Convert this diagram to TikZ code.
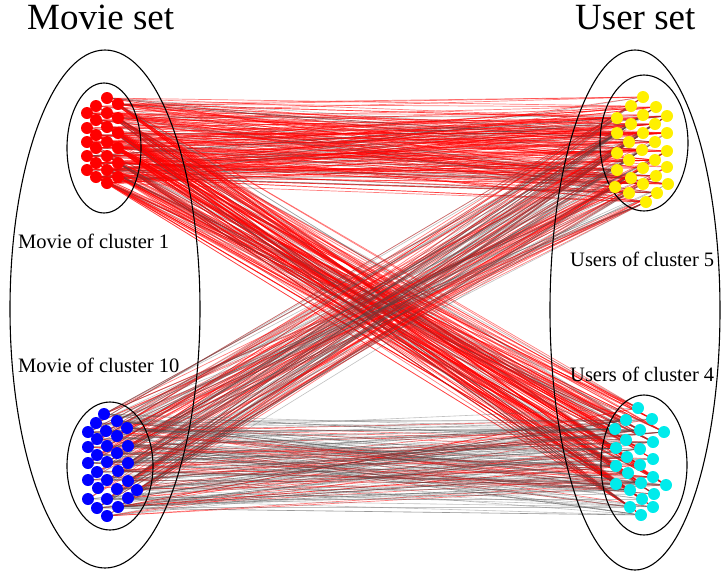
\documentclass[tikz,border=0pt]{standalone}
\usepackage{fontspec}
\setmainfont{LiberationSerif-Regular.ttf}
\usetikzlibrary{backgrounds}

\definecolor{aqua}{RGB}{0,235,235}
\definecolor{amar}{RGB}{255,240,0}

\tikzset{
  punto/.style={circle,inner sep=0pt,minimum size=12pt},
  rojo/.style={punto,fill=red},
  amarillo/.style={punto,fill=amar},
  azul/.style={punto,fill=blue},
  cian/.style={punto,fill=aqua},
  lrojo/.style={red,line width=0.7pt,opacity=0.5},
  lgris/.style={black!70,line width=0.6pt,opacity=0.35},
  conj/.style={black,line width=1.1pt},
  titulo/.style={font=\fontsize{37}{40}\selectfont,anchor=base west,inner sep=0pt},
  etiq/.style={font=\fontsize{20.5}{23}\selectfont,anchor=base west,inner sep=0pt}
}

\begin{document}
\begin{tikzpicture}[x=1pt,y=-1pt]
    \useasboundingbox (0,0) rectangle (721,574);

    % Titulos
    \node[titulo] (tmovie) at (27,29) {Movie set};
    \node[titulo] (tuser) at (575,29) {User set};

    % Conjuntos
    \draw[conj] (105,309) ellipse [x radius=95pt, y radius=259pt];
    \draw[conj] (635,310) ellipse [x radius=85pt, y radius=260pt];
    \draw[conj] (104,148) ellipse [x radius=37pt, y radius=65pt];
    \draw[conj] (644,143) ellipse [x radius=44pt, y radius=68pt];
    \draw[conj] (110,466) ellipse [x radius=43pt, y radius=64pt];
    \draw[conj] (644,465) ellipse [x radius=43pt, y radius=70pt];

    % Etiquetas
    \node[etiq] (lm1) at (18,248) {Movie of cluster 1};
    \node[etiq] (lm10) at (18,372) {Movie of cluster 10};
    \node[etiq] (lu5) at (570,266) {Users of cluster 5};
    \node[etiq] (lu4) at (570,381) {Users of cluster 4};

    % Cluster 1 (peliculas)
    \foreach \x/\y [count=\i] in {87/113,87/128,87/142,87/156,87/170,
        96/106,96/120,96/135,96/148,96/163,96/177,
        107/98,107/113,107/127,107/142,107/156,107/170,107/183,
        118/104,118/118,118/133,118/148,118/163,118/177}
      \node[rojo] (r\i) at (\x,\y) {};

    % Cluster 10 (peliculas)
    \foreach \x/\y [count=\i] in {104/414,96/423,117/421,88/432,106/431,127/428,
        97/439,117/436,88/447,107/446,128/446,97/455,117/453,88/463,107/462,
        128/463,97/472,118/471,88/480,107/480,128/481,98/488,117/489,137/490,
        88/499,107/499,128/498,97/508,118/507,107/516}
      \node[azul] (b\i) at (\x,\y) {};

    % Cluster 5 (usuarios)
    \foreach \x/\y [count=\i] in {643/97,631/106,656/107,617/118,643/115,667/116,
        631/124,655/124,617/133,643/133,667/133,629/142,655/142,617/153,642/150,
        667/151,629/160,655/160,617/170,643/168,667/167,631/178,656/176,615/187,
        643/184,668/184,629/193,657/193,646/202}
      \node[amarillo] (y\i) at (\x,\y) {};

    % Cluster 4 (usuarios)
    \foreach \x/\y [count=\i] in {638/408,626/420,652/419,615/429,640/430,664/432,
        626/440,653/442,616/448,640/449,627/457,653/459,616/466,640/465,628/473,
        653/477,616/484,641/483,666/485,630/490,654/494,642/499,630/507,653/507,
        641/515}
      \node[cian] (c\i) at (\x,\y) {};

    % Aristas
    \pgfmathsetseed{42}
    \begin{scope}[on background layer]
      \foreach \k in {1,...,200}{
        \pgfmathrandominteger{\a}{1}{24}\pgfmathrandominteger{\b}{1}{29}
        \draw[lrojo] (r\a.center) -- (y\b.center);}
      \foreach \k in {1,...,30}{
        \pgfmathrandominteger{\a}{1}{24}\pgfmathrandominteger{\b}{1}{29}
        \draw[lgris] (r\a.center) -- (y\b.center);}
      \foreach \k in {1,...,190}{
        \pgfmathrandominteger{\a}{1}{24}\pgfmathrandominteger{\b}{1}{25}
        \draw[lrojo] (r\a.center) -- (c\b.center);}
      \foreach \k in {1,...,25}{
        \pgfmathrandominteger{\a}{1}{24}\pgfmathrandominteger{\b}{1}{25}
        \draw[lgris] (r\a.center) -- (c\b.center);}
      \foreach \k in {1,...,90}{
        \pgfmathrandominteger{\a}{1}{30}\pgfmathrandominteger{\b}{1}{29}
        \draw[lrojo] (b\a.center) -- (y\b.center);}
      \foreach \k in {1,...,80}{
        \pgfmathrandominteger{\a}{1}{30}\pgfmathrandominteger{\b}{1}{29}
        \draw[lgris] (b\a.center) -- (y\b.center);}
      \foreach \k in {1,...,55}{
        \pgfmathrandominteger{\a}{1}{30}\pgfmathrandominteger{\b}{1}{25}
        \draw[lrojo] (b\a.center) -- (c\b.center);}
      \foreach \k in {1,...,140}{
        \pgfmathrandominteger{\a}{1}{30}\pgfmathrandominteger{\b}{1}{25}
        \draw[lgris] (b\a.center) -- (c\b.center);}
    \end{scope}

\end{tikzpicture}
\end{document}
